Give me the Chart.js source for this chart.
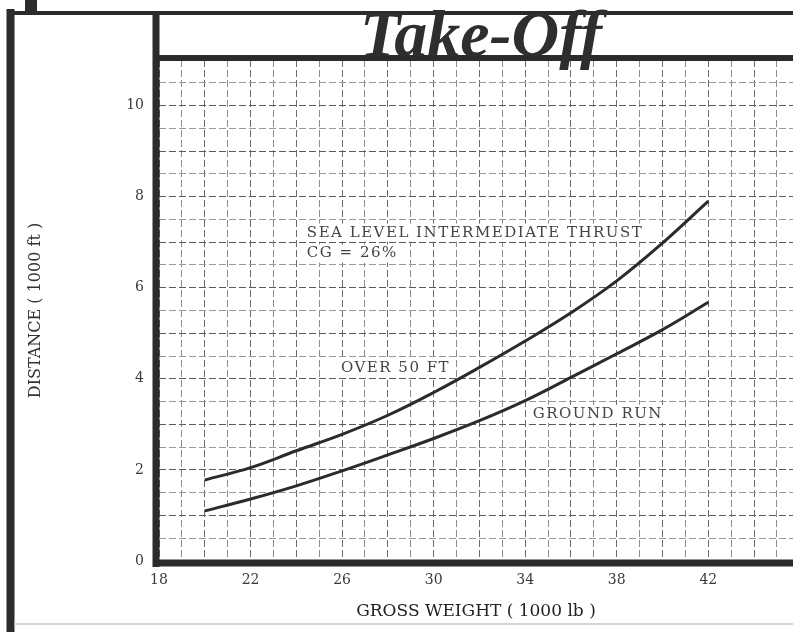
<!DOCTYPE html>
<html>
<head>
<meta charset="utf-8">
<script src="https://cdn.jsdelivr.net/npm/chart.js@4/dist/chart.umd.min.js"></script>
<style>
  body { margin: 0; background: #fff; }
</style>
</head>
<body>
<canvas id="myChart" width="793" height="632"></canvas>
<script>
// gross weight (1000 lb) and distances (1000 ft)
const grossWeight = [20, 22, 24, 26, 28, 30, 32, 34, 36, 38, 40, 42];
const over50Ft = [1.78, 2.05, 2.42, 2.78, 3.20, 3.70, 4.25, 4.83, 5.45, 6.15, 6.98, 7.9];
const groundRun = [1.10, 1.36, 1.65, 1.98, 2.33, 2.69, 3.08, 3.52, 4.03, 4.55, 5.08, 5.68];
const xTickLabels = [18, 22, 26, 30, 34, 38, 42];
const yTickLabels = [0, 2, 4, 6, 8, 10];

const notes = [
  { text: 'SEA LEVEL INTERMEDIATE THRUST', x: 24.46, y: 7.21 },
  { text: 'CG = 26%', x: 24.46, y: 6.75 },
  { text: 'OVER 50 FT', x: 25.95, y: 4.23 },
  { text: 'GROUND RUN', x: 34.33, y: 3.23 }
];

const ink = '#2b2b2b';

function strokeLine(c, x1, y1, x2, y2, w) {
  c.lineWidth = w;
  c.beginPath();
  c.moveTo(x1, y1);
  c.lineTo(x2, y2);
  c.stroke();
}

const sheetPlugin = {
  id: 'sheet',
  beforeDraw(chart) {
    const c = chart.ctx;
    c.save();
    c.fillStyle = '#fff';
    c.fillRect(0, 0, chart.width, chart.height);
    c.restore();
  },
  afterDraw(chart) {
    const c = chart.ctx;
    const a = chart.chartArea;
    const xs = chart.scales.x;
    const ys = chart.scales.y;
    c.save();
    c.strokeStyle = ink;
    c.fillStyle = ink;

    // outer frame of the page
    strokeLine(c, 10.5, 9, 10.5, chart.height, 8);
    strokeLine(c, 7, 13, chart.width, 13, 4);
    c.fillRect(25, 0, 12, 12);
    c.strokeStyle = '#d4d4d4';
    strokeLine(c, 14, 624, chart.width, 624, 2);

    // plot box
    c.strokeStyle = ink;
    strokeLine(c, a.left - 3, 11, a.left - 3, a.bottom + 6, 7);
    strokeLine(c, a.left - 6, a.top - 2, a.right, a.top - 2, 6);
    strokeLine(c, a.left - 6, a.bottom + 2, a.right, a.bottom + 2, 7);

    // notes on the grid
    c.font = '15px "DejaVu Serif"';
    c.letterSpacing = '1.5px';
    c.textBaseline = 'middle';
    c.textAlign = 'left';
    notes.forEach(function (n) {
      const px = xs.getPixelForValue(n.x);
      const py = ys.getPixelForValue(n.y);
      const w = c.measureText(n.text).width;
      c.fillStyle = '#fff';
      c.fillRect(px - 3, py - 9, w + 4, 18);
      c.fillStyle = '#444';
      c.fillText(n.text, px, py);
    });

    // title
    c.letterSpacing = '0px';
    c.font = 'italic bold 66px "Liberation Serif"';
    c.textAlign = 'center';
    c.textBaseline = 'alphabetic';
    c.fillStyle = '#2e2e2e';
    c.fillText('Take-Off', 481, 56);
    c.restore();
  }
};

const ctx = document.getElementById('myChart').getContext('2d');
new Chart(ctx, {
  type: 'line',
  data: {
    datasets: [{
      label: 'OVER 50 FT',
      data: grossWeight.map((w, i) => ({ x: w, y: over50Ft[i] })),
      borderColor: ink,
      borderWidth: 3,
      pointRadius: 0,
      tension: 0.4,
      fill: false
    }, {
      label: 'GROUND RUN',
      data: grossWeight.map((w, i) => ({ x: w, y: groundRun[i] })),
      borderColor: ink,
      borderWidth: 3,
      pointRadius: 0,
      tension: 0.4,
      fill: false
    }]
  },
  options: {
    responsive: false,
    animation: false,
    layout: { padding: { top: 60, left: 0, right: 0, bottom: 0 } },
    plugins: {
      legend: { display: false },
      tooltip: { enabled: false }
    },
    scales: {
      x: {
        type: 'linear',
        min: 18,
        max: 45.7,
        afterFit(scale) { scale.height = 71; },
        grid: {
          color: c => (c.tick && c.tick.value % 2 === 0) ? '#6a6a6a' : '#8c8c8c',
          lineWidth: 1,
          drawTicks: false
        },
        border: { display: false, dash: [7, 3] },
        ticks: {
          stepSize: 1,
          includeBounds: false,
          autoSkip: false,
          maxRotation: 0,
          padding: 11,
          color: '#3a3a3a',
          font: { family: '"DejaVu Serif"', size: 14 },
          callback: v => xTickLabels.includes(v) ? String(v) : ''
        },
        title: {
          display: true,
          text: 'GROSS WEIGHT ( 1000 lb )',
          color: '#222',
          font: { family: '"DejaVu Serif"', size: 17 },
          padding: { top: 0, bottom: 10 }
        }
      },
      y: {
        min: 0,
        max: 11,
        afterFit(scale) { scale.width = 159; },
        grid: {
          color: c => (c.tick && c.tick.value % 1 === 0) ? '#5a5a5a' : '#999',
          lineWidth: 1,
          drawTicks: false
        },
        border: { display: false, dash: [7, 3] },
        ticks: {
          stepSize: 0.5,
          includeBounds: false,
          autoSkip: false,
          padding: 15,
          color: '#3a3a3a',
          font: { family: '"DejaVu Serif"', size: 14 },
          callback: v => yTickLabels.includes(v) ? String(v) : ''
        },
        title: {
          display: true,
          text: 'DISTANCE ( 1000 ft )',
          color: '#333',
          font: { family: '"DejaVu Serif"', size: 16 },
          padding: { top: 26, bottom: 0 }
        }
      }
    }
  },
  plugins: [sheetPlugin]
});
</script>
</body>
</html>
